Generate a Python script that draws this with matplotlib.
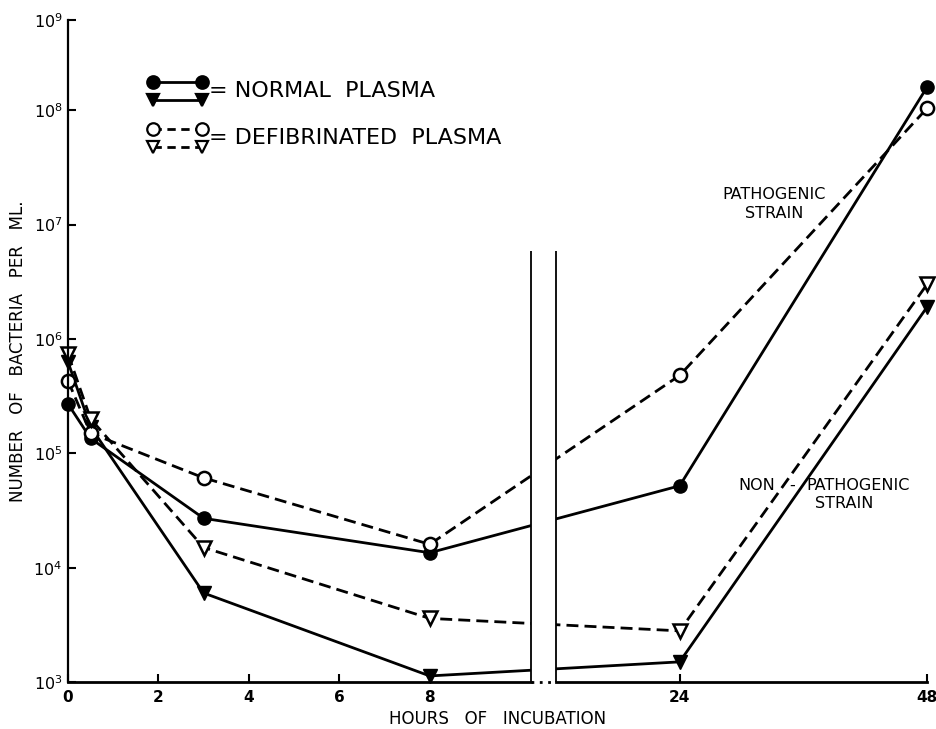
import matplotlib
matplotlib.use('Agg')
import matplotlib.pyplot as plt
import numpy as np

# data (hours, bacteria per ml)
hours = [0, 0.5, 3, 8, 24, 48]
normal_path = [2.7e5, 1.35e5, 2.7e4, 1.35e4, 5.2e4, 1.8e8]       # filled circle
defib_path = [4.3e5, 1.5e5, 6.1e4, 1.6e4, 4.8e5, 1.05e8]         # open circle
normal_nonpath = [6.3e5, 1.7e5, 6.0e3, 1.13e3, 1.5e3, 1.9e6]     # filled triangle
defib_nonpath = [7.4e5, 2.0e5, 1.5e4, 3.6e3, 2.8e3, 3.0e6]       # open triangle

xticks = [0, 2, 4, 6, 8, 24, 48]
yticks = [1e3, 1e4, 1e5, 1e6, 1e7, 1e8, 1e9]

# broken time axis: hours -> pixel-ish units
brk_left, brk_right = 10.24, 12.0
knots_h = [0, brk_left, brk_right, 48]
knots_p = [0, 463, 488, 859]


def fwd_x(h):
    return np.interp(h, knots_h, knots_p)


def inv_x(p):
    return np.interp(p, knots_p, knots_h)


# the top decade is drawn shorter than the others in the original
def fwd_y(v):
    t = np.log10(np.maximum(v, 1e-300))
    return np.where(t > 8, 8 + (t - 8) * 90 / 114, t)


def inv_y(s):
    s = np.asarray(s, dtype=float)
    return np.where(s > 8, 10 ** (8 + (s - 8) * 114 / 90), 10.0 ** s)


W, H = 936, 729
fig = plt.figure(figsize=(W / 100, H / 100), dpi=100)
ax = fig.add_axes([68 / W, (H - 682) / H, 859 / W, 662 / H])
ax.set_xscale('function', functions=(fwd_x, inv_x))
ax.set_yscale('function', functions=(fwd_y, inv_y))
ax.set_xlim(0, 48)
ax.set_ylim(1e3, 1e9)

solid = dict(color='black', lw=2, ls='-', clip_on=False, zorder=2)
dashed = dict(color='black', lw=2, dashes=(4.3, 2.2), clip_on=False, zorder=2)
ax.plot(hours, normal_path, marker='o', ms=9.5, mfc='black', mec='black', **solid)
ax.plot(hours, normal_nonpath, marker='v', ms=10, mfc='black', mec='black', **solid)
ax.plot(hours, defib_path, marker='o', ms=9.5, mfc='white', mec='black', mew=1.8, **dashed)
ax.plot(hours, defib_nonpath, marker='v', ms=10, mfc='white', mec='black', mew=1.8, **dashed)

# the break in the time axis
brk_top = 5.9e6
ax.fill_betweenx([1e3, brk_top], brk_left, brk_right, color='white', zorder=3, lw=0)
ax.vlines([brk_left, brk_right], 1e3, brk_top, color='black', lw=1.3, zorder=4)

# x axis line with dotted gap
for sp in ['top', 'right', 'bottom']:
    ax.spines[sp].set_visible(False)
ax.spines['left'].set_linewidth(1.6)
ax.plot([0, brk_left], [1e3, 1e3], color='black', lw=2, clip_on=False, zorder=5)
ax.plot([brk_right, 48], [1e3, 1e3], color='black', lw=2, clip_on=False, zorder=5)
ax.plot([brk_left, brk_right], [1e3, 1e3], color='black', lw=2, ls=(0, (1, 2)),
        clip_on=False, zorder=5)

ax.set_xticks(xticks)
ax.set_xticklabels([str(t) for t in xticks], fontsize=11, fontweight='bold')
ax.set_yticks(yticks)
ax.set_yticklabels([r'$10^{%d}$' % int(np.log10(t)) for t in yticks], fontsize=11.5)
ax.minorticks_off()
ax.tick_params(axis='both', direction='in', length=6, width=1.5, pad=6)
ax.tick_params(axis='y', pad=4)

ax.set_xlabel('HOURS   OF   INCUBATION', fontsize=12, labelpad=3)
ax.set_ylabel('NUMBER   OF   BACTERIA   PER   ML.', fontsize=12, labelpad=5)


def px(x, y):
    return (x / W, 1 - y / H)


# legend, drawn by hand as in the original
def legend_row(y, marker, face, style):
    xs = [px(153, y)[0], px(202, y)[0]]
    ys = [px(153, y)[1]] * 2
    fig.add_artist(plt.Line2D(xs, ys, transform=fig.transFigure, color='black',
                              lw=2, marker=marker, ms=9, mfc=face, mec='black',
                              mew=1.6, **style))


legend_row(82, 'o', 'black', dict(ls='-'))
legend_row(100, 'v', 'black', dict(ls='-'))
legend_row(129, 'o', 'white', dict(dashes=(3, 2)))
legend_row(147, 'v', 'white', dict(dashes=(3, 2)))
fig.text(*px(209, 91), '= NORMAL  PLASMA', fontsize=16, va='center', ha='left')
fig.text(*px(209, 138), '= DEFIBRINATED  PLASMA', fontsize=16, va='center', ha='left')

fig.text(*px(774, 204), 'PATHOGENIC\nSTRAIN', fontsize=11.5, ha='center', va='center',
         linespacing=1.3)
fig.text(*px(738, 485), 'NON', fontsize=11.5, ha='left', va='center')
fig.text(*px(792, 485), '-', fontsize=11.5, ha='center', va='center')
fig.text(*px(806, 485), 'PATHOGENIC', fontsize=11.5, ha='left', va='center')
fig.text(*px(815, 504), 'STRAIN', fontsize=11.5, ha='left', va='center')

fig.savefig('out.png', dpi=100)
